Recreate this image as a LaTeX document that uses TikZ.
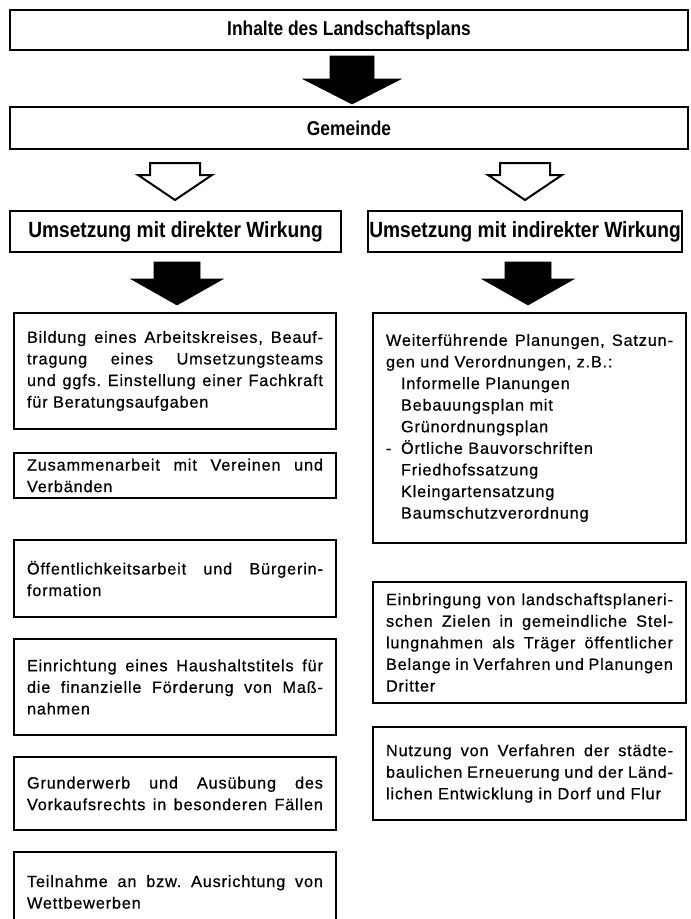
\documentclass[tikz,border=0pt]{standalone}
\usepackage{fontspec}
\setmainfont{Liberation Sans}[LetterSpace=5,FakeBold=0.6]
\newfontfamily\hdfont{Liberation Sans}[FakeStretch=0.87]
\newlength{\jw}
\ExplSyntaxOn
\seq_new:N \l_jl_words_seq
\NewDocumentCommand{\jlast}{m}{
  \seq_set_split:Nnn \l_jl_words_seq {~} {#1}
  \makebox[\jw][s]{\seq_use:Nn \l_jl_words_seq {\hfill}}
}
\ExplSyntaxOff
\newcommand{\jl}[1]{\jlast{#1}\\}
\newcommand{\ind}{\hspace*{15bp}}
\begin{document}
\begin{tikzpicture}[x=1bp,y=-1bp,
  bodybox/.style={draw, line width=1.3bp, align=left, inner sep=0pt,
    font=\fontsize{16.3bp}{21.6bp}\selectfont},
  lbox/.style={bodybox, minimum width=322bp, text width=296bp},
  rbox/.style={bodybox, minimum width=313bp, text width=287bp},
  titlebox/.style={draw, line width=1.4bp, minimum width=678bp, inner sep=0pt,
    font=\hdfont\bfseries\fontsize{20bp}{22bp}\selectfont},
  headbox/.style={draw, line width=2.2bp, inner sep=0pt, minimum height=41bp,
    font=\hdfont\bfseries\fontsize{22bp}{24bp}\selectfont},
  pics/blockarrow/.style n args={4}{code={
    \path[pic actions] (-#1,0) -- (#1,0) -- (#1,#3) -- (#2,#3) -- (0,#4)
      -- (-#2,#3) -- (-#1,#3) -- cycle;}},
  solidarrow/.style={fill=black, draw=black, line width=0.6bp},
  openarrow/.style={draw=black, fill=white, line width=2bp, line join=miter}
]
\useasboundingbox (0,0) rectangle (691,919);

% top boxes
\node[titlebox, minimum height=40bp] (inh) at (349,30) {Inhalte des Landschaftsplans};
\node[titlebox, line width=2.4bp, minimum height=42bp] (gem) at (349,128) {Gemeinde};

% header boxes
\node[headbox, minimum width=331bp] (dir) at (175.5,231.5) {Umsetzung mit direkter Wirkung};
\node[headbox, minimum width=314bp] (ind) at (525,231.5) {Umsetzung mit indirekter Wirkung};

% arrows
\pic[solidarrow] at (352,56) {blockarrow={22}{49}{23}{48}};
\pic[openarrow] at (175,163) {blockarrow={25}{37}{12}{37}};
\pic[openarrow] at (525,163) {blockarrow={25}{37}{12}{37}};
\pic[solidarrow] at (177,262) {blockarrow={23}{46}{17}{43}};
\pic[solidarrow] at (528,262) {blockarrow={23}{46}{17}{43}};

% left column
\setlength{\jw}{296bp}
\node[lbox, minimum height=116bp] (l1) at (175,371) {%
\jl{Bildung eines Arbeitskreises, Beauf-}%
\jl{tragung eines Umsetzungsteams}%
\jl{und ggfs. Einstellung einer Fachkraft}%
für Beratungsaufgaben};
\node[lbox, minimum height=45bp] (l2) at (175,475.5) {%
\jl{Zusammenarbeit mit Vereinen und}%
Verbänden};
\node[lbox, minimum height=77bp] (l3) at (175,578.5) {%
\jl{Öffentlichkeitsarbeit und Bürgerin-}%
formation};
\node[lbox, minimum height=96bp] (l4) at (175,687) {%
\jl{Einrichtung eines Haushaltstitels für}%
\jl{die finanzielle Förderung von Maß-}%
nahmen};
\node[lbox, minimum height=73bp] (l5) at (175,793.5) {%
\jl{Grunderwerb und Ausübung des}%
\jlast{Vorkaufsrechts in besonderen Fällen}};
\node[lbox, minimum height=80bp] (l6) at (175,892) {%
\jl{Teilnahme an bzw. Ausrichtung von}%
Wettbewerben};

% right column
\setlength{\jw}{287bp}
\node[rbox, minimum height=230bp] (r1) at (529.5,428) {%
\jl{Weiterführende Planungen, Satzun-}%
gen und Verordnungen, z.B.:\\
\ind Informelle Planungen\\
\ind Bebauungsplan mit\\
\ind Grünordnungsplan\\
\makebox[15bp][l]{-}Örtliche Bauvorschriften\\
\ind Friedhofssatzung\\
\ind Kleingartensatzung\\
\ind Baumschutzverordnung};
\node[rbox, minimum height=121bp] (r2) at (529.5,642.5) {%
\jl{Einbringung von landschaftsplaneri-}%
\jl{schen Zielen in gemeindliche Stel-}%
\jl{lungnahmen als Träger öffentlicher}%
\jl{Belange in Verfahren und Planungen}%
Dritter};
\node[rbox, minimum height=93bp] (r3) at (529.5,773.5) {%
\jl{Nutzung von Verfahren der städte-}%
\jl{baulichen Erneuerung und der Länd-}%
lichen Entwicklung in Dorf und Flur};
\end{tikzpicture}
\end{document}
